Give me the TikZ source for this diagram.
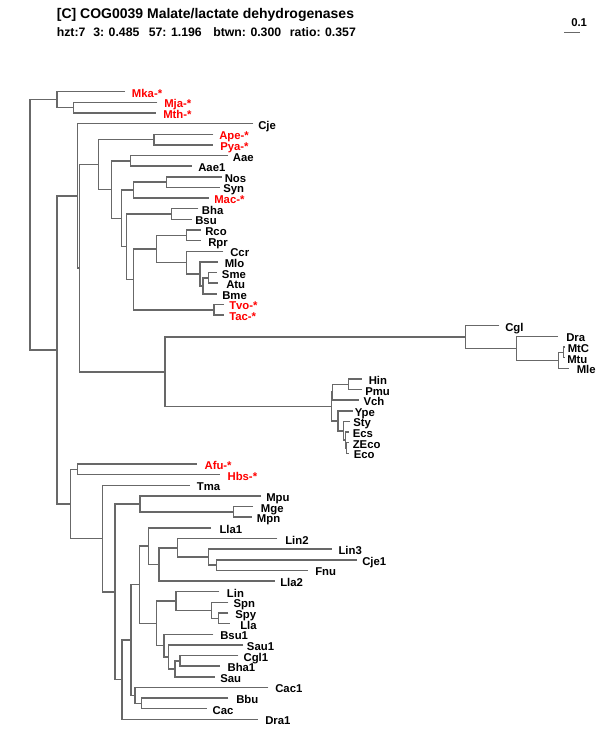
\documentclass[tikz,border=0pt]{standalone}
\usepackage{fontspec}
\setmainfont{Liberation Sans}
\usetikzlibrary{calc}
\definecolor{brc}{RGB}{104,104,104}
\tikzset{
  branch/.style={draw=brc, line width=1.1pt},
  lab/.style={anchor=base west, inner sep=0pt, font=\bfseries\fontsize{8.5}{10}\selectfont},
  hdr/.style={anchor=base west, inner sep=0pt, font=\bfseries\fontsize{10.5}{12}\selectfont},
  stat/.style={anchor=base west, inner sep=0pt, font=\bfseries\fontsize{9.2}{11}\selectfont},
}
\newcommand\mybranch[4]{%
  \coordinate (#1m) at ($(#3)!0.5!(#4)$);
  \coordinate (#1) at (#2,0 |- #1m);
  \draw[branch] (#3) -| (#1) |- (#4);
}
\begin{document}
\begin{tikzpicture}[x=0.75pt, y=-0.75pt]
\useasboundingbox (0,0) rectangle (600,750);
% header
\node[hdr] (title) at (56.6,18) {[C] COG0039 Malate/lactate dehydrogenases};
\node[stat] (s1) at (56.6,36) {hzt:7};
\node[stat] (s2) at (93,36) {3: 0.485};
\node[stat] (s3) at (148.5,36) {57: 1.196};
\node[stat] (s4) at (213,36) {btwn: 0.300};
\node[stat] (s5) at (289.7,36) {ratio: 0.357};
\coordinate (sbA) at (564,32.5);
\coordinate (sbB) at (580,32.5);
\draw[branch] (sbA) -- (sbB);
\node[lab] (sbl) at (571,26) {0.1};
% leaves
\foreach \nm/\lbl/\tx/\lx/\cl [count=\i from 0] in {
Mka/Mka-*/125/131.7/red,
Mja/Mja-*/157.3/164/red,
Mth/Mth-*/155.5/163/red,
Cje/Cje/253.3/258/black,
Ape/Ape-*/213.3/219/red,
Pya/Pya-*/213.3/220/red,
Aae/Aae/228/232.7/black,
Aae1/Aae1/192/198/black,
Nos/Nos/221.7/224.5/black,
Syn/Syn/220/223/black,
Mac/Mac-*/209/214/red,
Bha/Bha/198.3/201.7/black,
Bsu/Bsu/191.7/195/black,
Rco/Rco/200.5/205/black,
Rpr/Rpr/201/208/black,
Ccr/Ccr/223.3/230/black,
Mlo/Mlo/218/224.5/black,
Sme/Sme/216.7/221.7/black,
Atu/Atu/217.5/226/black,
Bme/Bme/216.7/222/black,
Tvo/Tvo-*/224/229/red,
Tac/Tac-*/224/229/red,
Cgl/Cgl/499.3/505/black,
Dra/Dra/558/566/black,
MtC/MtC/565/567.5/black,
Mtu/Mtu/565/567/black,
Mle/Mle/569/576.5/black,
Hin/Hin/361.7/368.5/black,
Pmu/Pmu/361.7/365/black,
Vch/Vch/359.3/363.3/black,
Ype/Ype/352.7/354.5/black,
Sty/Sty/350/353/black,
Ecs/Ecs/349/352.5/black,
ZEco/ZEco/348.5/352.5/black,
Eco/Eco/348.5/353.5/black,
Afu/Afu-*/196.7/204.3/red,
Hbs/Hbs-*/220/227.3/red,
Tma/Tma/190/196.7/black,
Mpu/Mpu/261/266/black,
Mge/Mge/253/260.7/black,
Mpn/Mpn/252/256.7/black,
Lla1/Lla1/211/219.3/black,
Lin2/Lin2/277.3/285/black,
Lin3/Lin3/331.7/338.3/black,
Cje1/Cje1/357/362/black,
Fnu/Fnu/308.3/315/black,
Lla2/Lla2/275/280/black,
Lin/Lin/219.3/226.7/black,
Spn/Spn/228.3/233.3/black,
Spy/Spy/228.3/235/black,
Lla/Lla/230/240/black,
Bsu1/Bsu1/213.3/220/black,
Sau1/Sau1/243.3/246.7/black,
Cgl1/Cgl1/238.3/243.3/black,
Bha1/Bha1/220/227.3/black,
Sau/Sau/215/220/black,
Cac1/Cac1/268.3/275/black,
Bbu/Bbu/228.3/236/black,
Cac/Cac/206.7/212.3/black,
Dra1/Dra1/258.3/265/black}{
  \coordinate (\nm) at (\tx, {91.7+\i*10.638});
  \node[lab, text=\cl] (l\nm) at (\lx, {97.2+\i*10.638}) {\lbl};
}
% internal branches
\mybranch{nN2}{73.3}{Mja}{Mth}
\mybranch{nN1}{57}{Mka}{nN2}
\mybranch{nApP}{154}{Ape}{Pya}
\mybranch{nAae}{130.7}{Aae}{Aae1}
\mybranch{nNS}{166.7}{Nos}{Syn}
\mybranch{nF}{133.3}{nNS}{Mac}
\mybranch{nH}{171.7}{Bha}{Bsu}
\mybranch{nK}{186.7}{Rco}{Rpr}
\mybranch{nSA}{208.3}{Sme}{Atu}
\mybranch{nP}{203}{nSA}{Bme}
\mybranch{nM}{200}{Mlo}{nP}
\mybranch{nL}{186.7}{Ccr}{nM}
\mybranch{nJ}{156.7}{nK}{nL}
\mybranch{nTT}{214}{Tvo}{Tac}
\mybranch{nI}{133.3}{nJ}{nTT}
\mybranch{nG}{126.7}{nH}{nI}
\mybranch{nE}{121.7}{nF}{nG}
\mybranch{nD}{111.7}{nAae}{nE}
\mybranch{nC}{98.7}{nApP}{nD}
\mybranch{nMMa}{563.3}{MtC}{Mtu}
\mybranch{nMM}{558.3}{nMMa}{Mle}
\mybranch{nDM}{516.7}{Dra}{nMM}
\mybranch{nCG}{465.7}{Cgl}{nDM}
\mybranch{nHP}{348.3}{Hin}{Pmu}
\mybranch{nHPV}{332.5}{nHP}{Vch}
\mybranch{nEa}{346.5}{ZEco}{Eco}
\mybranch{nEb}{345.5}{Ecs}{nEa}
\mybranch{nEc}{343.5}{Sty}{nEb}
\mybranch{nEd}{338}{Ype}{nEc}
\mybranch{nHC}{331.7}{nHPV}{nEd}
\mybranch{nBC}{165}{nCG}{nHC}
\mybranch{nB}{79.3}{nC}{nBC}
\mybranch{nA}{77.3}{Cje}{nB}
\mybranch{nAH}{77.7}{Afu}{Hbs}
\mybranch{nMgM}{233.5}{Mge}{Mpn}
\mybranch{nMpC}{140}{Mpu}{nMgM}
\mybranch{nBB}{216.7}{Cje1}{Fnu}
\mybranch{nAA}{208.3}{Lin3}{nBB}
\mybranch{nZ}{177.3}{Lin2}{nAA}
\mybranch{nY}{159}{nZ}{Lla2}
\mybranch{nW}{148.7}{Lla1}{nY}
\mybranch{nFF}{218.3}{Spy}{Lla}
\mybranch{nEE}{211.3}{Spn}{nFF}
\mybranch{nCC}{176}{Lin}{nEE}
\mybranch{nII}{180}{Cgl1}{Bha1}
\mybranch{nHH}{175}{nII}{Sau}
\mybranch{nGG}{168.3}{Sau1}{nHH}
\mybranch{nDD}{164}{Bsu1}{nGG}
\mybranch{nX}{156.7}{nCC}{nDD}
\mybranch{nU}{139.3}{nW}{nX}
\mybranch{nBbC}{141.7}{Bbu}{Cac}
\mybranch{nV}{135}{Cac1}{nBbC}
\mybranch{nT}{131}{nU}{nV}
\mybranch{nS}{122}{nT}{Dra1}
\mybranch{nR}{115}{nMpC}{nS}
\mybranch{nQ}{102.7}{Tma}{nR}
\mybranch{nBot}{70.7}{nAH}{nQ}
\mybranch{nNc}{57}{nA}{nBot}
\mybranch{nRoot}{30}{nN1}{nNc}
\end{tikzpicture}
\end{document}
